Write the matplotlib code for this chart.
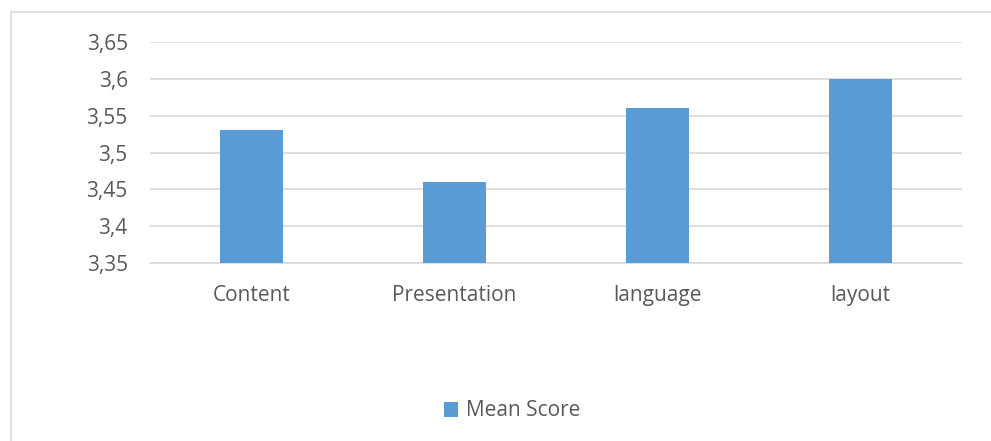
import matplotlib
matplotlib.use("Agg")
import matplotlib.pyplot as plt
from matplotlib.patches import Rectangle
from matplotlib.ticker import FuncFormatter

categories = ["Content", "Presentation", "language", "layout"]
mean_score = [3.53, 3.46, 3.56, 3.60]
yticks = [3.35, 3.40, 3.45, 3.50, 3.55, 3.60, 3.65]

plt.rcParams['font.family'] = ['Open Sans', 'DejaVu Sans']
W, H = 991, 441
fig = plt.figure(figsize=(W / 100, H / 100), dpi=100)

# chart border (Excel-like)
fig.patches.append(Rectangle((11 / W, -0.1), 1.2, 1.1 - 12 / H, transform=fig.transFigure,
                             fill=False, edgecolor="#d9d9d9", linewidth=1.2))

ax = fig.add_axes([150 / W, 1 - 263 / H, (962 - 150) / W, (263 - 42) / H])
x = range(len(categories))
ax.bar(x, [v - 3.35 for v in mean_score], bottom=3.35, width=0.31, color="#5b9bd5",
       label="Mean Score", zorder=3)
ax.set_xlim(-0.5, len(categories) - 0.5)
ax.set_ylim(3.35, 3.65)
ax.set_yticks(yticks)
ax.yaxis.set_major_formatter(FuncFormatter(lambda v, p: ("%g" % round(v, 2)).replace(".", ",")))
ax.set_xticks(list(x))
ax.set_xticklabels(categories)
ax.grid(axis="y", color="#d9d9d9", linewidth=1.2, zorder=0)
for s in ax.spines.values():
    s.set_visible(False)
ax.spines["bottom"].set_visible(True)
ax.spines["bottom"].set_color("#d9d9d9")
ax.spines["bottom"].set_linewidth(1.2)
ax.tick_params(length=0, labelsize=15, labelcolor="#595959")
ax.tick_params(axis="y", pad=16)
ax.tick_params(axis="x", pad=16)

fig.legend(loc="center", bbox_to_anchor=(512 / W, 1 - 411 / H), frameon=False,
           fontsize=15, labelcolor="#595959", handlelength=0.7, handleheight=0.7,
           handletextpad=0.35)

fig.savefig("out.png", dpi=100)
